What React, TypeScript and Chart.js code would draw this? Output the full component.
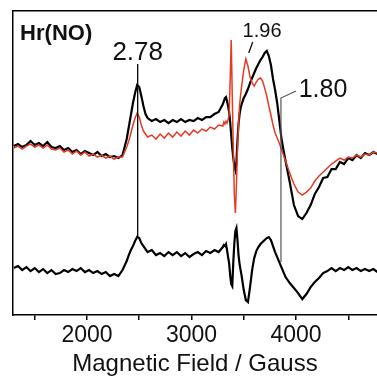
import React, { useEffect, useRef } from 'react';
import { Chart, registerables } from 'chart.js';

Chart.register(...registerables);

// Magnetic field (Gauss)
const fieldGauss = [
  1300, 1340, 1380, 1420, 1460, 1500, 1540, 1580, 1620, 1660, 1700, 1740, 1780, 1820, 1860, 1900, 1940, 1980, 2020, 2060, 2100, 2140, 2180, 2220, 2260, 2300, 2340,
  2380, 2400, 2420, 2440, 2460, 2480, 2500, 2520, 2540, 2560, 2580,
  2620, 2660, 2700, 2740, 2780, 2820, 2860, 2900, 2940, 2980, 3020, 3060, 3100, 3140, 3180, 3220, 3260, 3300,
  3310, 3320, 3330, 3340, 3350, 3360, 3370, 3380, 3390, 3400, 3410, 3420, 3430, 3440, 3450, 3460, 3470, 3480, 3490, 3500,
  3520, 3540, 3560, 3580, 3600, 3620, 3640, 3660, 3680, 3700, 3720, 3740, 3760, 3780, 3800, 3820, 3840, 3860, 3880, 3900,
  3940, 3980, 4020, 4060, 4100, 4140, 4180, 4220, 4260, 4300, 4340, 4380, 4420, 4460, 4500, 4540, 4580, 4620, 4660, 4700, 4740, 4780,
];

// Upper spectrum, black trace (arbitrary units)
const blackUpper = [
  169, 171, 168, 170, 174, 170, 172, 169, 173, 168, 167, 169, 165, 167, 163, 165, 161, 164, 162, 160, 163, 159, 161, 158, 159, 157, 160,
  176, 188, 200, 212, 222, 230, 228, 219, 209, 201, 197,
  194, 196, 193, 195, 192, 195, 193, 196, 193, 195, 194, 197, 195, 198, 198, 201, 203, 211,
  214, 217, 218, 214, 209, 203, 193, 180, 167, 157, 149, 145, 153, 175, 191, 201, 207, 211, 214, 217,
  221, 226, 232, 237, 242, 247, 251, 255, 258, 262, 264, 259, 250, 236, 225, 212, 195, 177, 165, 154,
  133, 110, 99, 96, 102, 110, 121, 128, 137, 138, 146, 146, 153, 151, 157, 155, 160, 157, 162, 160, 163, 161,
];

// Upper spectrum, red trace
const redUpper = [
  167, 169, 166, 169, 171, 168, 170, 167, 170, 166, 165, 167, 163, 165, 161, 164, 160, 163, 159, 161, 158, 160, 157, 159, 156, 158, 158,
  168, 174, 182, 190, 197, 202, 198, 190, 184, 181, 178,
  180, 176, 181, 177, 182, 178, 183, 179, 184, 180, 185, 182, 186, 184, 188, 186, 190, 189,
  193, 191, 194, 192, 195, 200, 235, 275, 220, 165, 120, 102, 130, 165, 190, 210, 220, 229, 237, 245,
  256, 249, 238, 232, 229, 233, 236, 237, 234, 227, 219, 209, 200, 190, 182, 177, 172, 166, 160, 154,
  142, 131, 123, 120, 123, 127, 134, 139, 143, 147, 151, 154, 157, 155, 158, 157, 160, 158, 161, 160, 163, 162,
];

// Lower spectrum, black trace
const blackLower = [
  47, 49, 45, 48, 44, 47, 43, 46, 42, 45, 41, 42, 45, 43, 46, 44, 47, 43, 45, 42, 44, 41, 43, 39, 41, 39, 45,
  54, 60, 65, 69, 74, 78, 77, 72, 69, 66, 63,
  65, 60, 62, 59, 63, 60, 63, 59, 62, 58, 61, 63, 60, 64, 62, 65, 63, 68,
  70, 69, 71, 65, 58, 52, 40, 31, 29, 53, 72, 84, 87, 75, 60, 51, 45, 39, 32, 25,
  15, 13, 28, 45, 57, 64, 68, 71, 73, 75, 77, 78, 75, 69, 63, 58, 53, 48, 43, 38,
  32, 27, 22, 16, 21, 28, 33, 37, 42, 44, 47, 44, 47, 45, 48, 45, 47, 44, 46, 44, 46, 43,
];

const xTickValues = [1500, 2000, 2500, 3000, 3500, 4000, 4500];
const xTickLabels = [2000, 3000, 4000];
const xMin = 1292;
const xMax = 4775;
const yMin = 0;
const yMax = 304;

const FONT = '"Liberation Sans", Arial, Helvetica, sans-serif';

// Text annotations anchored in data coordinates (field, intensity)
const annotationTexts = [
  { text: 'Hr(NO)', field: 1360, value: 275, size: 22, bold: true, align: 'left' },
  { text: '2.78', field: 2485, value: 255.5, size: 26, bold: false, align: 'center' },
  { text: '1.96', field: 3675, value: 278, size: 20, bold: false, align: 'center' },
  { text: '1.80', field: 4258, value: 218, size: 25, bold: false, align: 'center' },
];

// Marker / leader lines in data coordinates
const markerLines = [
  { fields: [2485, 2485], values: [251, 77], color: '#000000', width: 1.3 },
  { fields: [3547, 3586], values: [262, 273], color: '#000000', width: 1.2 },
  { fields: [4000, 3856, 3856], values: [224, 217, 53], color: '#555555', width: 1.2 },
];

const annotationPlugin = {
  id: 'eprAnnotations',
  afterDatasetsDraw(chart: any) {
    const ctx = chart.ctx as CanvasRenderingContext2D;
    const xs = chart.scales.x;
    const ys = chart.scales.y;
    ctx.save();
    markerLines.forEach((l) => {
      ctx.beginPath();
      l.fields.forEach((f, i) => {
        const px = xs.getPixelForValue(f);
        const py = ys.getPixelForValue(l.values[i]);
        if (i === 0) ctx.moveTo(px, py);
        else ctx.lineTo(px, py);
      });
      ctx.strokeStyle = l.color;
      ctx.lineWidth = l.width;
      ctx.stroke();
    });
    annotationTexts.forEach((t) => {
      ctx.font = `${t.bold ? 'bold ' : ''}${t.size}px ${FONT}`;
      ctx.fillStyle = '#111111';
      ctx.textAlign = t.align as CanvasTextAlign;
      ctx.textBaseline = 'alphabetic';
      ctx.fillText(t.text, xs.getPixelForValue(t.field), ys.getPixelForValue(t.value));
    });
    ctx.restore();
  },
};

export default function App() {
  const canvasRef = useRef<HTMLCanvasElement | null>(null);

  useEffect(() => {
    document.body.style.margin = '0';
    document.body.style.overflow = 'hidden';
    const canvas = canvasRef.current;
    if (!canvas) return;
    const toPoints = (arr: number[]) => fieldGauss.map((g, i) => ({ x: g, y: arr[i] }));
    const chart = new Chart(canvas, {
      type: 'line',
      data: {
        datasets: [
          {
            label: 'red',
            data: toPoints(redUpper),
            borderColor: '#e53b25',
            borderWidth: 1.5,
            pointRadius: 0,
            tension: 0,
            order: 0,
          },
          {
            label: 'black upper',
            data: toPoints(blackUpper),
            borderColor: '#000000',
            borderWidth: 2.2,
            pointRadius: 0,
            tension: 0,
            order: 1,
          },
          {
            label: 'black lower',
            data: toPoints(blackLower),
            borderColor: '#000000',
            borderWidth: 2.2,
            pointRadius: 0,
            tension: 0,
            order: 1,
          },
        ],
      },
      options: {
        responsive: false,
        animation: false,
        devicePixelRatio: 1,
        layout: { padding: { left: 13, top: 11, right: 0, bottom: 0 } },
        plugins: { legend: { display: false }, tooltip: { enabled: false } },
        scales: {
          x: {
            type: 'linear',
            position: 'bottom',
            min: xMin,
            max: xMax,
            afterBuildTicks: (axis: any) => {
              axis.ticks = xTickValues.map((v) => ({ value: v }));
            },
            border: { display: true, color: '#000000', width: 1.5 },
            grid: {
              display: true,
              drawOnChartArea: false,
              drawTicks: true,
              tickLength: 5,
              color: '#000000',
              lineWidth: 1.5,
            },
            ticks: {
              autoSkip: false,
              maxRotation: 0,
              padding: 4,
              color: '#111111',
              font: { family: FONT, size: 23, lineHeight: 1.04 },
              callback: (v: any) => (xTickLabels.includes(Number(v)) ? String(v) : ''),
            },
            title: {
              display: true,
              text: 'Magnetic Field / Gauss',
              color: '#111111',
              font: { family: FONT, size: 24, lineHeight: 1.0 },
              padding: { top: 0, bottom: 2 },
            },
          },
          x2: {
            type: 'linear',
            position: 'top',
            min: xMin,
            max: xMax,
            border: { display: true, color: '#000000', width: 1.5 },
            grid: { display: false, drawTicks: false },
            ticks: { display: false },
          },
          y: {
            type: 'linear',
            min: yMin,
            max: yMax,
            border: { display: true, color: '#000000', width: 1.5 },
            grid: { display: false, drawTicks: false },
            ticks: { display: false },
          },
        },
      },
      plugins: [annotationPlugin],
    } as any);
    return () => chart.destroy();
  }, []);

  return (
    <div style={{ position: 'absolute', left: 0, top: 0, width: 377, height: 378 }}>
      <canvas ref={canvasRef} width={377} height={378} style={{ display: 'block', width: 377, height: 378 }} />
    </div>
  );
}
